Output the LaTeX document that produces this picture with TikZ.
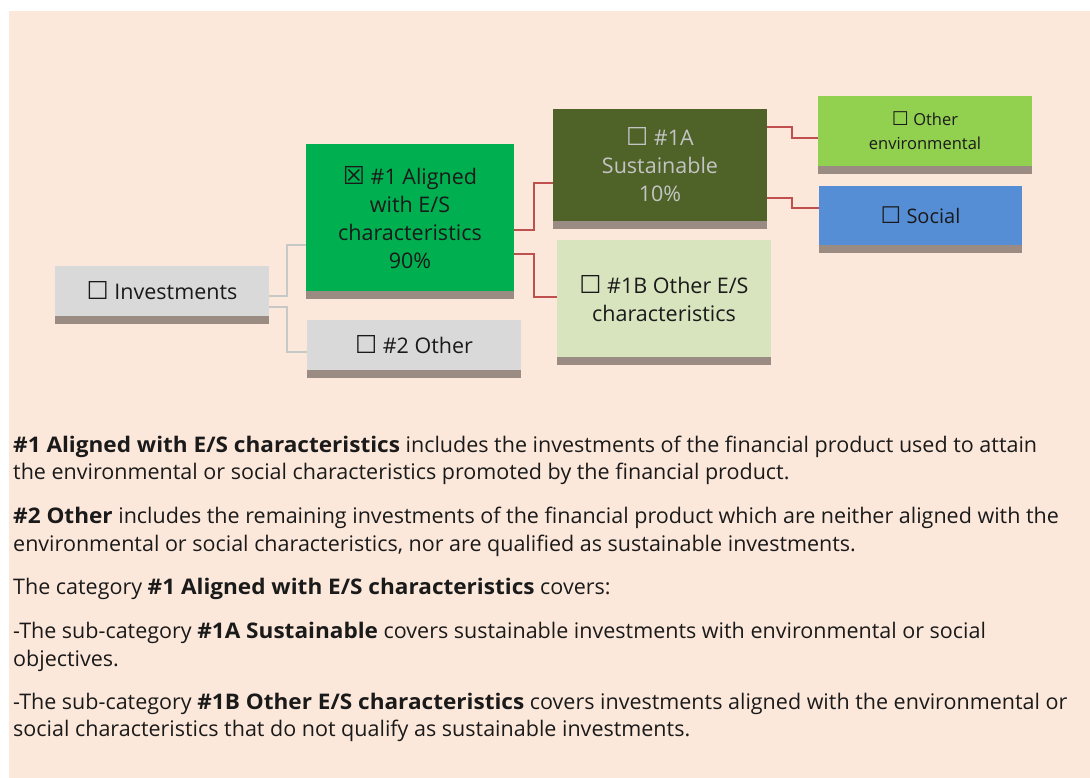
\documentclass[tikz,border=0pt]{standalone}
\usepackage{fontspec}
\setmainfont{Open Sans}[BoldFeatures={FakeStretch=1.05}]
\newfontfamily\symf{DejaVu Sans}
\definecolor{bgc}{HTML}{FCE8DB}
\definecolor{grayb}{HTML}{D9D9D9}
\definecolor{shad}{HTML}{9A8C82}
\definecolor{greenb}{HTML}{00B050}
\definecolor{oliveb}{HTML}{4F6228}
\definecolor{lightg}{HTML}{D7E4BD}
\definecolor{limeb}{HTML}{92D050}
\definecolor{blueb}{HTML}{558ED5}
\definecolor{redl}{HTML}{C0504D}
\definecolor{grayl}{HTML}{C8C8C8}
\definecolor{txt}{HTML}{1A1A1A}
\definecolor{ltxt}{HTML}{C4C4C4}
\newcommand\cbx{{\symf\scalebox{1.15}{☐}}}
\newcommand\cbxx{{\symf\scalebox{1.15}{☒}}}
\begin{document}
\begin{tikzpicture}[x=1pt,y=-1pt,
  box/.style={rectangle, inner sep=0pt, align=center, text=txt, font=\fontsize{21.5}{28}\selectfont},
  para/.style={anchor=base west, inner sep=0pt, text=txt, font=\fontsize{21.5}{28}\selectfont},
  gconn/.style={draw=grayl, line width=2pt},
  rconn/.style={draw=redl, line width=2pt}]
\useasboundingbox (0,0) rectangle (1090,778);
\clip (0,0) rectangle (1090,778);
\fill[white] (0,0) rectangle (1090,778);
\fill[bgc] (9,11) rectangle (1090,778);

\node[box, fill=grayb, minimum width=214pt, minimum height=50pt] (inv) at (162,291) {\cbx\ Investments};
\node[box, fill=greenb, minimum width=208pt, minimum height=147pt] (a1) at (410,217.5) {\cbxx\ \#1 Aligned\\with E/S\\characteristics\\90\%};
\node[box, fill=grayb, minimum width=214pt, minimum height=50pt] (o2) at (414,345) {\cbx\ \#2 Other};
\node[box, fill=oliveb, text=ltxt, minimum width=214pt, minimum height=112pt] (s1a) at (660,165) {\cbx\ \#1A\\Sustainable\\10\%};
\node[box, fill=lightg, minimum width=214pt, minimum height=117pt] (s1b) at (664,298.5) {\cbx\ \#1B Other E/S\\characteristics};
\node[box, fill=limeb, minimum width=214pt, minimum height=70pt, font=\fontsize{16.5}{24}\selectfont] (oe) at (925,131) {\cbx\ Other\\environmental};
\node[box, fill=blueb, minimum width=203pt, minimum height=59pt, font=\fontsize{20}{24}\selectfont] (soc) at (920.5,215.5) {\cbx\ Social};

\foreach \n in {inv,a1,o2,s1a,s1b,oe,soc}
  \fill[shad] (\n.south west) rectangle ([yshift=-7.5pt]\n.south east);

\draw[gconn] ([yshift=-5pt]inv.east) -- ++(18,0) |- ([yshift=-27.5pt]a1.west);
\draw[gconn] ([yshift=-16pt]inv.east) -- ++(18,0) |- ([yshift=-7pt]o2.west);
\draw[rconn] ([yshift=-12.5pt]a1.east) -- ++(20,0) |- ([yshift=-18pt]s1a.west);
\draw[rconn] ([yshift=-36.5pt]a1.east) -- ++(20,0) |- ([yshift=1.5pt]s1b.west);
\draw[rconn] ([yshift=38pt]s1a.east) -- ++(25,0) |- ([yshift=-7pt]oe.west);
\draw[rconn] ([yshift=-33pt]s1a.east) -- ++(25,0) |- ([yshift=7.5pt]soc.west);

\node[para] (p1a) at (13,452) {\textbf{\#1 Aligned with E/S characteristics} includes the investments of the financial product used to attain};
\node[para] (p1b) at (13,479) {the environmental or social characteristics promoted by the financial product.};
\node[para] (p2a) at (13,523) {\textbf{\#2 Other} includes the remaining investments of the financial product which are neither aligned with the};
\node[para] (p2b) at (13,551) {environmental or social characteristics, nor are qualified as sustainable investments.};
\node[para] (p3) at (13,594) {The category \textbf{\#1 Aligned with E/S characteristics} covers:};
\node[para] (p4a) at (13,638) {-The sub-category \textbf{\#1A Sustainable} covers sustainable investments with environmental or social};
\node[para] (p4b) at (13,666) {objectives.};
\node[para] (p5a) at (13,709) {-The sub-category \textbf{\#1B Other E/S characteristics} covers investments aligned with the environmental or};
\node[para] (p5b) at (13,736) {social characteristics that do not qualify as sustainable investments.};
\end{tikzpicture}
\end{document}
